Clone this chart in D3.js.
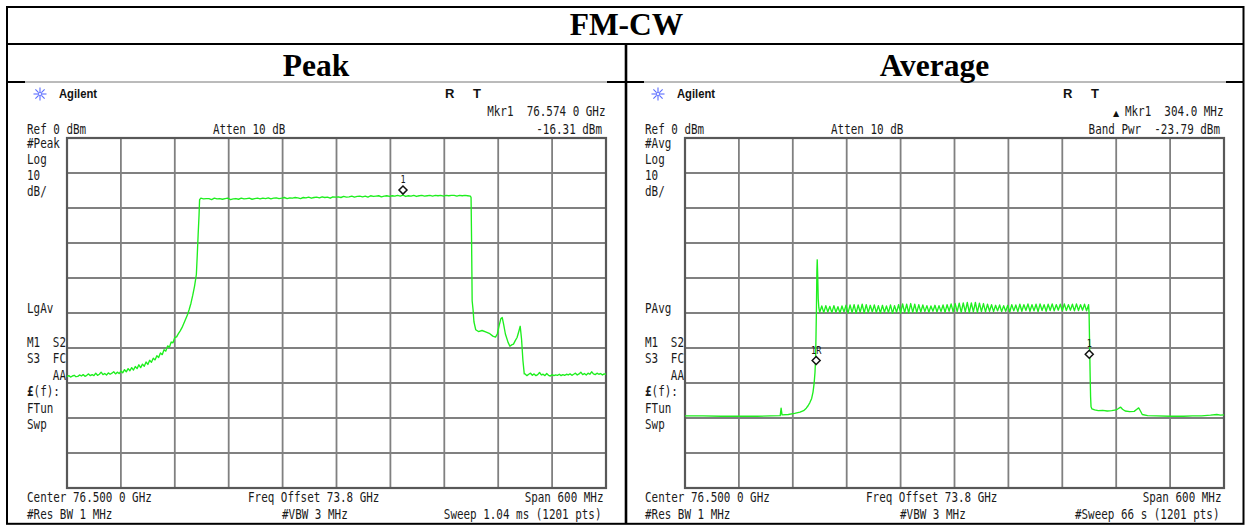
<!DOCTYPE html>
<html>
<head>
<meta charset="utf-8">
<script src="https://cdn.jsdelivr.net/npm/d3@7"></script>
<style>
  body { margin: 0; background: #fff; }
  svg { display: block; }
</style>
</head>
<body>
<svg id="chart" width="1247" height="525"></svg>
<script>
// ---------------------------------------------------------------
// Sweep data: frequency offset from centre (MHz), level (dBm)
// Centre 76.500 0 GHz, span 600 MHz, reference 0 dBm, 10 dB/div
// ---------------------------------------------------------------

// Peak detector trace
const peakSkirtStart = -300, peakSkirtStep = 2;
const peakSkirtLevels = [
  -68.2,-67.9,-68.3,-68.0,-67.8,-68.2,-68.1,-67.7,-68.0,-67.6,
  -68.1,-67.8,-67.4,-67.9,-67.6,-67.9,-67.2,-67.8,-67.5,-66.9,
  -67.6,-67.3,-67.7,-67.1,-67.5,-67.2,-66.8,-67.4,-66.9,-67.3,
  -66.6,-67.1,-66.2,-66.8,-65.9,-66.5,-65.6,-66.3,-65.3,-65.9,
  -64.8,-65.6,-64.6,-65.2,-64.0,-64.7,-63.5,-64.1,-62.9,-63.4,
  -62.2,-62.7,-61.4,-61.9,-60.5,-60.9,-59.4,-59.8,-58.3,-58.5,
  -57.0,-56.8,-55.9,-55.1,-54.2,-53.0,-51.8,-50.6,-49.0,-47.2,
  -44.9,-42.3,-39.0
];
const peakRise = [[-155,-33.5],[-154,-27.5],[-153,-22.0],[-152.4,-17.6]];
const peakTopStart = -151, peakTopStep = 3;
const peakTopLevels = [
  -17.2,-17.4,-17.3,-17.3,-17.6,-17.2,-17.4,-17.3,-17.5,-17.3,
  -17.2,-17.6,-17.4,-17.3,-17.5,-17.2,-17.4,-17.3,-17.2,-17.5,
  -17.3,-17.2,-17.4,-17.2,-17.3,-17.1,-17.4,-17.2,-17.1,-17.3,
  -17.2,-17.0,-17.3,-17.1,-17.2,-17.0,-17.1,-17.3,-17.0,-17.1,
  -16.9,-17.2,-17.0,-16.9,-17.1,-16.8,-17.0,-16.9,-17.2,-16.8,
  -16.9,-16.8,-17.0,-16.7,-16.9,-16.8,-16.6,-16.9,-16.7,-16.6,
  -16.8,-16.6,-16.9,-16.5,-16.7,-16.6,-16.5,-16.8,-16.6,-16.5,
  -16.7,-16.5,-16.6,-16.4,-16.6,-16.31,-16.7,-16.5,-16.6,-16.4,
  -16.7,-16.5,-16.4,-16.6,-16.5,-16.4,-16.6,-16.4,-16.5,-16.4,
  -16.6,-16.4,-16.5,-16.4,-16.4,-16.6,-16.4,-16.5,-16.4,-16.5,
  -16.6
];
const peakFall = [
  [149.8,-17.0],[150.4,-30.0],[151,-46.5],[152,-49.0],[153,-52.5],[155,-54.8],
  [158,-55.3],[162,-55.0],[166,-55.4],[170,-55.8],[174,-56.6],[177,-56.9],
  [179,-56.0],[181,-53.6],[183,-51.6],[184.5,-51.3],[186,-53.2],[188,-56.0],
  [191,-58.4],[193,-59.5],[195,-59.1],[197,-58.9],[199,-57.9],[201,-57.0],
  [203,-55.2],[204.5,-53.8],[206,-57.5],[207.5,-63.5],[209,-67.4]
];
const peakFloorStart = 210, peakFloorStep = 2;
const peakFloorLevels = [
  -67.4,-67.9,-67.5,-67.2,-67.8,-67.4,-67.9,-67.6,-67.0,-67.7,
  -67.5,-67.9,-67.3,-67.8,-68.0,-67.6,-67.9,-67.7,-67.8,-67.5,
  -67.9,-67.6,-67.8,-67.5,-67.7,-67.4,-67.8,-67.5,-67.2,-67.7,
  -67.4,-66.9,-67.6,-67.3,-67.7,-67.2,-67.5,-66.8,-67.4,-67.6,
  -67.2,-67.5,-67.3,-67.7,-67.4,-67.5
];
const peakMarkers = [{ off: 74, level: -16.31, label: "1" }];

// Average detector trace
const avgLow = [
  [-300,-79.4],[-280,-79.4],[-260,-79.5],[-240,-79.5],[-220,-79.5],[-205,-79.4],
  [-194,-79.3],[-193,-77.2],[-192,-79.1],[-185,-79.0],[-178,-78.7],[-172,-78.3],
  [-168,-77.9],[-165,-77.2],[-163,-76.5],[-161,-75.6],[-159,-74.4],[-157.5,-72.6],
  [-156.3,-70.2],[-155.3,-67.0],[-154.7,-63.5],[-154.2,-57.0],[-153.7,-49.0],
  [-153.2,-38.0],[-152.8,-34.8],[-152.3,-39.0],[-151.7,-46.0],[-151,-48.5]
];
const avgRippleStart = -150, avgRippleStep = 2.25;
const avgRippleLevels = [
  -49.8,-48.0,-49.9,-47.9,-49.7,-48.1,-49.9,-47.9,-49.8,-48.2,
  -50.0,-48.0,-49.7,-47.8,-50.0,-47.7,-49.9,-47.6,-50.1,-47.7,
  -49.8,-47.5,-50.0,-47.6,-49.9,-47.8,-49.7,-47.7,-49.9,-47.9,
  -50.0,-47.8,-49.8,-48.0,-49.9,-47.7,-50.1,-47.9,-49.8,-47.6,
  -50.0,-47.4,-49.9,-47.5,-50.0,-47.3,-49.8,-47.5,-49.9,-47.6,
  -49.7,-47.7,-49.6,-47.9,-49.8,-48.0,-49.5,-47.8,-49.7,-47.9,
  -49.6,-47.7,-49.8,-47.6,-49.5,-47.4,-49.7,-47.3,-49.6,-47.2,
  -49.8,-47.1,-49.7,-47.0,-49.9,-47.1,-49.7,-47.0,-49.8,-47.2,
  -49.6,-47.3,-49.7,-47.5,-49.5,-47.6,-49.6,-47.8,-49.4,-47.7,
  -49.6,-47.9,-49.5,-47.8,-49.7,-47.6,-49.4,-47.7,-49.6,-47.5,
  -49.5,-47.6,-49.3,-47.4,-49.5,-47.6,-49.4,-47.5,-49.6,-47.4,
  -49.3,-47.6,-49.5,-47.5,-49.3,-47.4,-49.4,-47.6,-49.2,-47.5,
  -49.4,-47.4,-49.3,-47.6,-49.2,-47.5,-49.4,-47.4,-49.3,-47.6,
  -49.2,-47.5,-49.4,-47.6
];
const avgHigh = [
  [149.8,-50.0],[150.2,-56.0],[150.6,-62.0],[151.0,-68.0],[151.5,-74.0],[152,-76.8],
  [153,-77.4],[156,-77.7],[160,-77.9],[165,-77.8],[170,-78.0],[175,-77.9],
  [180,-77.7],[183,-77.2],[185,-76.9],[187,-77.5],[190,-78.0],[195,-78.2],
  [200,-78.1],[203,-77.5],[205,-77.1],[207,-78.0],[209,-79.0],[215,-79.3],
  [225,-79.4],[240,-79.5],[255,-79.5],[265,-79.4],[275,-79.4],[285,-79.2],
  [292,-79.0],[296,-79.2],[300,-79.1]
];
const avgMarkers = [
  { off: -154, level: -65.0, label: "1R" },
  { off: 150, level: -63.2, label: "1" }
];

// Axis set-up
const spanOffsets = [-300, 300];
const levelRange = [-100, 0];
const divOffsets = [-300,-240,-180,-120,-60,0,60,120,180,240,300];
const divLevels = [-100,-90,-80,-70,-60,-50,-40,-30,-20,-10,0];

// Text
const tableTitle = "FM-CW";
const panelTitles = ["Peak", "Average"];
const sideLabels = [
  ["#Peak", "Log", "10", "dB/", "LgAv"],
  ["#Avg", "Log", "10", "dB/", "PAvg"]
];
const statusLabels = ["M1", "S2", "S3", "FC", "AA", "(f):", "FTun", "Swp"];
const markerReadouts = [
  ["Mkr1  76.574 0 GHz", "-16.31 dBm"],
  ["Mkr1  304.0 MHz", "Band Pwr  -23.79 dBm"]
];
const bottomLabels = [
  ["Center 76.500 0 GHz", "Freq Offset 73.8 GHz", "Span 600 MHz",
   "#Res BW 1 MHz", "#VBW 3 MHz", "Sweep 1.04 ms (1201 pts)"],
  ["Center 76.500 0 GHz", "Freq Offset 73.8 GHz", "Span 600 MHz",
   "#Res BW 1 MHz", "#VBW 3 MHz", "#Sweep 66 s (1201 pts)"]
];

// ---------------------------------------------------------------
const svg = d3.select("#chart");
const expand = (start, step, levels) => levels.map((v, i) => [start + i * step, v]);

const peakTrace = [].concat(
  expand(peakSkirtStart, peakSkirtStep, peakSkirtLevels),
  peakRise,
  expand(peakTopStart, peakTopStep, peakTopLevels),
  peakFall,
  expand(peakFloorStart, peakFloorStep, peakFloorLevels)
);
const avgTrace = [].concat(
  avgLow,
  expand(avgRippleStart, avgRippleStep, avgRippleLevels),
  avgHigh
);

// Table frame
const frame = svg.append("g");
frame.append("rect").attr("x", 7).attr("y", 7).attr("width", 1236.5).attr("height", 516.8)
  .attr("fill", "none").attr("stroke", "#000").attr("stroke-width", 2);
frame.append("line").attr("x1", 7).attr("x2", 1243.5).attr("y1", 44).attr("y2", 44)
  .attr("stroke", "#000").attr("stroke-width", 2.2);
frame.append("line").attr("x1", 626).attr("x2", 626).attr("y1", 44).attr("y2", 524)
  .attr("stroke", "#000").attr("stroke-width", 2.6);
frame.append("line").attr("x1", 7).attr("x2", 1243.5).attr("y1", 82).attr("y2", 82)
  .attr("stroke", "#777").attr("stroke-width", 1);
[[7, 25], [607, 644], [1226, 1243.5]].forEach(([a, b]) => {
  frame.append("line").attr("x1", a).attr("x2", b).attr("y1", 82).attr("y2", 82)
    .attr("stroke", "#000").attr("stroke-width", 2);
});

const serif = "'Liberation Serif', 'Times New Roman', serif";
frame.append("text").attr("x", 626.5).attr("y", 35).attr("text-anchor", "middle")
  .attr("font-family", serif).attr("font-weight", "bold").attr("font-size", 31.5)
  .text(tableTitle);
[316, 934.5].forEach((cx, i) => {
  frame.append("text").attr("x", cx).attr("y", 75.5).attr("text-anchor", "middle")
    .attr("font-family", serif).attr("font-weight", "bold").attr("font-size", 31.5)
    .text(panelTitles[i]);
});

// Instrument-style condensed mono text
function mono(g, x, y, s, anchor = "start", size = 14, sx = 0.78) {
  return g.append("text")
    .attr("transform", `translate(${x},${y}) scale(${sx},1)`)
    .attr("text-anchor", anchor)
    .attr("font-family", "'DejaVu Sans Mono', monospace")
    .attr("font-size", size)
    .attr("fill", "#1a1a1a")
    .style("white-space", "pre")
    .text(s);
}

function drawPanel(p, ox, trace, markers) {
  const g = svg.append("g");
  const x = d3.scaleLinear().domain(spanOffsets).range([67 + ox, 606 + ox]);
  const y = d3.scaleLinear().domain(levelRange).range([488, 138]);

  // Agilent logo
  const logo = g.append("g").attr("transform", `translate(${40 + ox},94)`);
  d3.range(8).forEach(k => {
    const a = k * Math.PI / 4;
    logo.append("line")
      .attr("x1", Math.cos(a) * 2).attr("y1", Math.sin(a) * 2)
      .attr("x2", Math.cos(a) * 6.5).attr("y2", Math.sin(a) * 6.5)
      .attr("stroke", "#5a6cff").attr("stroke-width", 1.1);
  });
  logo.append("circle").attr("r", 1.6).attr("fill", "none").attr("stroke", "#5a6cff").attr("stroke-width", 0.9);
  g.append("text").attr("transform", `translate(${59 + ox},97.5) scale(0.9,1)`)
    .attr("font-family", "'Liberation Sans', Arial, sans-serif").attr("font-weight", "bold")
    .attr("font-size", 12.5).attr("fill", "#111").text("Agilent");

  // R T
  g.append("text").attr("x", 445 + ox).attr("y", 97.5)
    .attr("font-family", "'Liberation Sans', Arial, sans-serif").attr("font-weight", "bold")
    .attr("font-size", 13).attr("fill", "#111").text("R");
  g.append("text").attr("x", 473 + ox).attr("y", 97.5)
    .attr("font-family", "'Liberation Sans', Arial, sans-serif").attr("font-weight", "bold")
    .attr("font-size", 13).attr("fill", "#111").text("T");

  // Marker readout
  mono(g, 605.5 + ox, 116, markerReadouts[p][0], "end");
  if (p === 1) {
    g.append("text").attr("x", 1116).attr("y", 116).attr("text-anchor", "middle")
      .attr("font-family", "'DejaVu Sans', sans-serif").attr("font-size", 8).attr("fill", "#111").text("▲");
  }
  mono(g, 602 + ox, 133.5, markerReadouts[p][1], "end");
  mono(g, 27 + ox, 133.5, "Ref 0 dBm");
  mono(g, 213 + ox, 133.5, "Atten 10 dB");

  // Side annotations
  const side = sideLabels[p];
  [148, 164, 180, 196, 313].forEach((yy, i) => mono(g, 27 + ox, yy, side[i]));
  mono(g, 27 + ox, 346.5, statusLabels[0]);
  mono(g, 66 + ox, 346.5, statusLabels[1], "end");
  mono(g, 27 + ox, 363, statusLabels[2]);
  mono(g, 66 + ox, 363, statusLabels[3], "end");
  mono(g, 66 + ox, 379.5, statusLabels[4], "end");
  const f = mono(g, 27 + ox, 396, "");
  f.append("tspan").attr("font-weight", "bold").text("£");
  f.append("tspan").text(statusLabels[5]);
  mono(g, 27 + ox, 412.5, statusLabels[6]);
  mono(g, 27 + ox, 429, statusLabels[7]);

  // Graticule
  const grid = g.append("g");
  grid.selectAll("line.v").data(divOffsets.slice(1, -1)).join("line")
    .attr("x1", d => x(d)).attr("x2", d => x(d)).attr("y1", y(0)).attr("y2", y(-100))
    .attr("stroke", "#808080").attr("stroke-width", 1.8);
  grid.selectAll("line.h").data(divLevels.slice(1, -1)).join("line")
    .attr("y1", d => y(d)).attr("y2", d => y(d)).attr("x1", x(-300)).attr("x2", x(300))
    .attr("stroke", "#808080").attr("stroke-width", 1.8);
  grid.append("rect").attr("x", x(-300)).attr("y", y(0))
    .attr("width", x(300) - x(-300)).attr("height", y(-100) - y(0))
    .attr("fill", "none").attr("stroke", "#585858").attr("stroke-width", 2.2);

  // Trace
  g.append("path").datum(trace)
    .attr("d", d3.line().x(d => x(d[0])).y(d => y(d[1])))
    .attr("fill", "none").attr("stroke", "#1eee1e").attr("stroke-width", 1.35)
    .attr("stroke-linejoin", "round");

  // Markers
  markers.forEach(m => {
    const mx = x(m.off), my = y(m.level) - 5;
    g.append("path").attr("d", `M${mx},${my - 4}L${mx + 4},${my}L${mx},${my + 4}L${mx - 4},${my}Z`)
      .attr("fill", "#fff").attr("stroke", "#111").attr("stroke-width", 1.5);
    mono(g, mx, my - 7, m.label, "middle", 10, 0.85);
  });

  // Bottom annotations
  const b = bottomLabels[p];
  mono(g, 27 + ox, 501.5, b[0]);
  mono(g, 248 + ox, 501.5, b[1]);
  mono(g, 603.5 + ox, 501.5, b[2], "end");
  mono(g, 27 + ox, 519, b[3]);
  mono(g, 282 + ox, 519, b[4]);
  mono(g, 601.5 + ox, 519, b[5], "end");
}

drawPanel(0, 0, peakTrace, peakMarkers);
drawPanel(1, 618, avgTrace, avgMarkers);
</script>
</body>
</html>
